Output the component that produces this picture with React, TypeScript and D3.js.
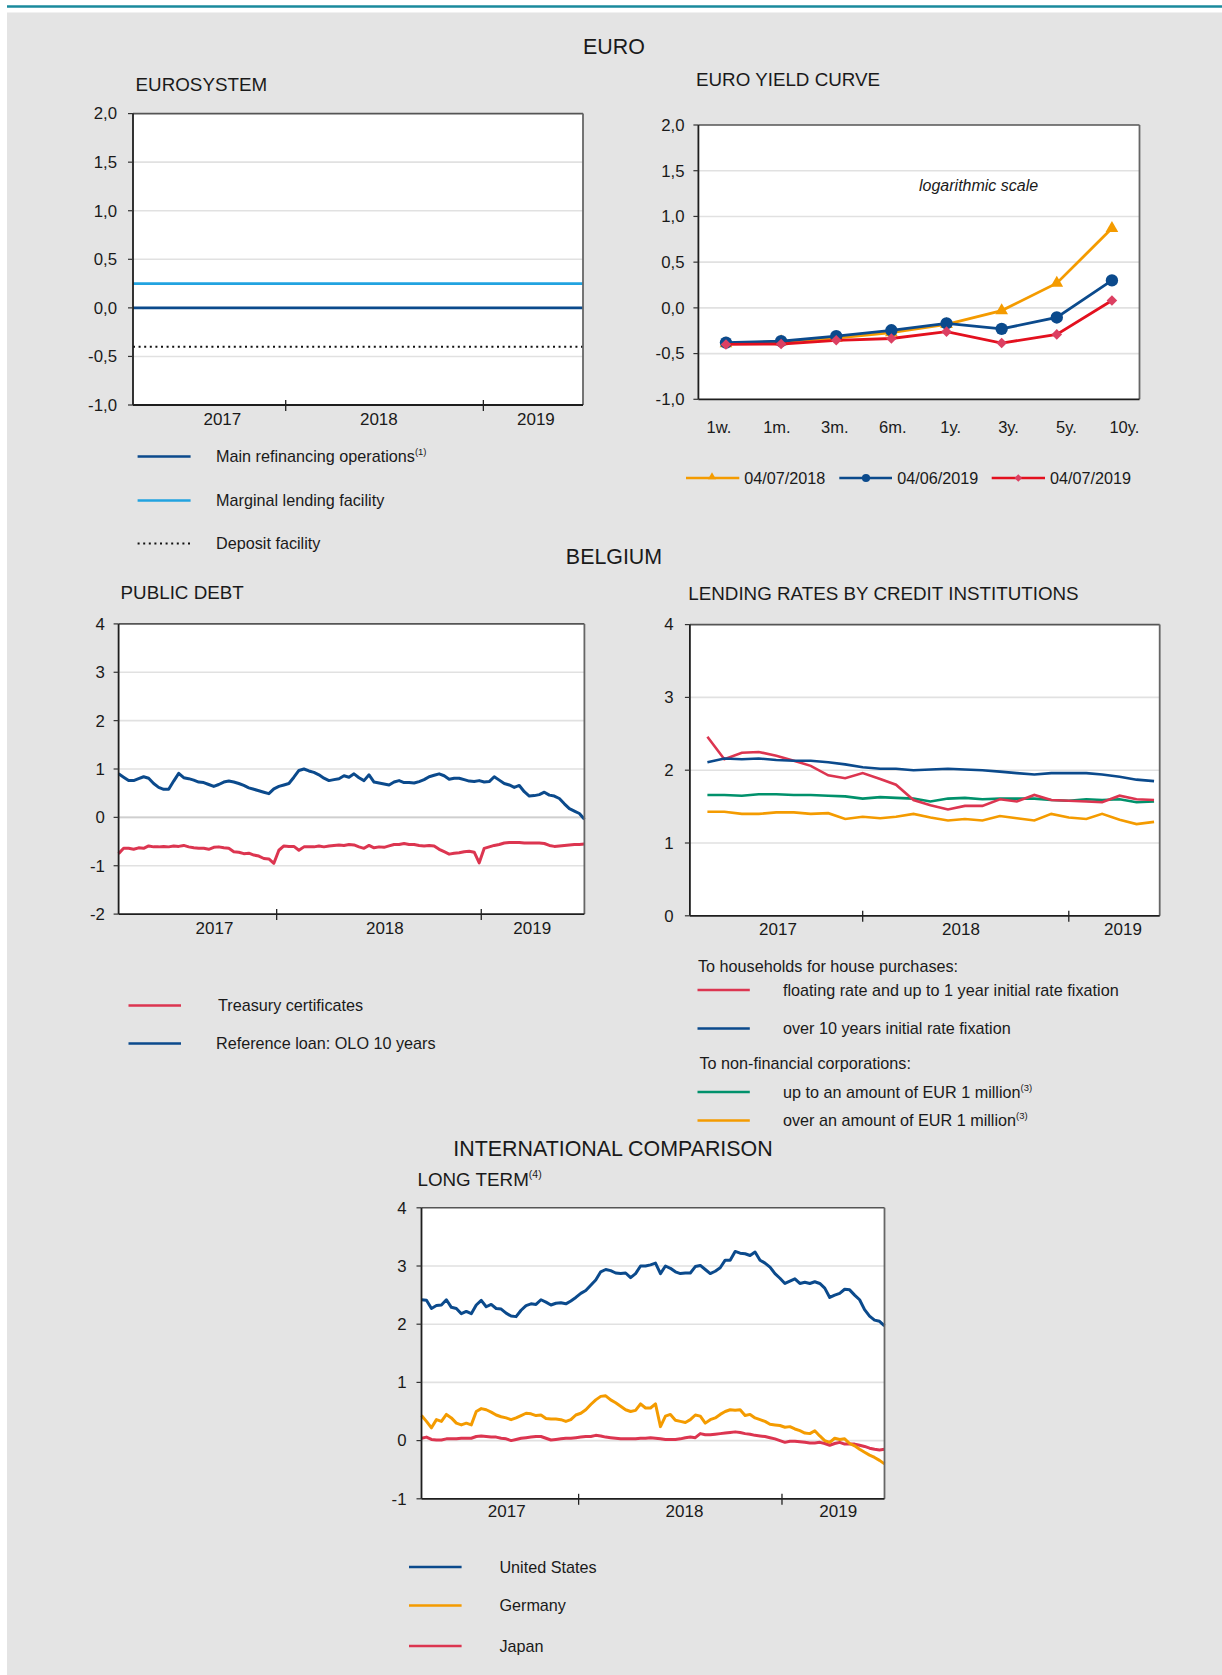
import React from "react";
import * as d3 from "d3";

const W = 1222;
const H = 1675;
const FONT = "'Liberation Sans', Arial, Helvetica, sans-serif";

const C = {
  navy: "#0b4a8c",
  sky: "#22a3e0",
  red: "#dc3550",
  brightRed: "#e3101e",
  pink: "#dc4062",
  orange: "#f49b00",
  green: "#00916b",
  grid: "#e1e1e1",
  bg: "#e4e4e4",
  teal: "#1a8a9c",
  text: "#1a1a1a",
};

// ---- shared time axis ----
const dailyStart = new Date(2017, 2, 25);
const dailyEnd = new Date(2019, 6, 4);
const yearLabels = ["2017", "2018", "2019"];
const yearBoundaries = [new Date(2018, 0, 1), new Date(2019, 0, 1)];

// label positions (dates) per chart
const euroLabelDates = [new Date(2017, 8, 6), new Date(2018, 5, 22), new Date(2019, 3, 8)];
const debtLabelDates = [new Date(2017, 8, 12), new Date(2018, 6, 13), new Date(2019, 3, 2)];
const lendingLabelDates = [new Date(2017, 7, 4), new Date(2018, 5, 24), new Date(2019, 3, 7)];
const longLabelDates = [new Date(2017, 7, 25), new Date(2018, 6, 10), new Date(2019, 3, 12)];

// ---- Eurosystem ----
const eurosystemDates = [dailyStart, dailyEnd];
const mainRefinancing = [0.0, 0.0];
const marginalLending = [0.25, 0.25];
const depositFacility = [-0.4, -0.4];

// ---- Euro yield curve ----
const maturities = ["1w.", "1m.", "3m.", "6m.", "1y.", "3y.", "5y.", "10y."];
const yield20180704 = [-0.39, -0.37, -0.33, -0.27, -0.18, -0.03, 0.27, 0.87];
const yield20190604 = [-0.38, -0.365, -0.31, -0.245, -0.17, -0.23, -0.105, 0.3];
const yield20190704 = [-0.4, -0.395, -0.355, -0.335, -0.26, -0.385, -0.29, 0.08];

// ---- Public debt (sampled along the period) ----
const oloValues = [
  0.9, 0.83, 0.76, 0.76, 0.8, 0.84, 0.81, 0.7, 0.62, 0.58, 0.58, 0.75, 0.91, 0.82, 0.8, 0.77,
  0.73, 0.72, 0.68, 0.64, 0.68, 0.73, 0.75, 0.73, 0.7, 0.66, 0.61, 0.58, 0.55, 0.52, 0.49, 0.59,
  0.64, 0.67, 0.7, 0.83, 0.97, 1.0, 0.96, 0.93, 0.88, 0.81, 0.76, 0.78, 0.8, 0.86, 0.83,
  0.9, 0.82, 0.76, 0.88, 0.73, 0.71, 0.69, 0.67, 0.73, 0.76, 0.72, 0.72, 0.71, 0.74, 0.78, 0.84,
  0.87, 0.9, 0.86, 0.79, 0.81, 0.81, 0.78, 0.75, 0.74, 0.76, 0.73, 0.74, 0.84, 0.77, 0.7, 0.67,
  0.62, 0.66, 0.53, 0.44, 0.45, 0.47, 0.52, 0.46, 0.44, 0.39, 0.28, 0.18, 0.13, 0.08, -0.04,
];
const treasuryValues = [
  -0.75, -0.64, -0.64, -0.66, -0.63, -0.64, -0.59, -0.61, -0.61, -0.6, -0.61, -0.59, -0.6, -0.58,
  -0.61, -0.63, -0.64, -0.64, -0.66, -0.62, -0.61, -0.63, -0.64, -0.71, -0.72, -0.75, -0.74, -0.78,
  -0.8, -0.85, -0.86, -0.95, -0.68, -0.59, -0.6, -0.6, -0.68, -0.61, -0.61, -0.61, -0.59, -0.61,
  -0.59, -0.58, -0.57, -0.58, -0.56,
  -0.57, -0.61, -0.64, -0.58, -0.63, -0.61, -0.62, -0.59, -0.56, -0.56, -0.54, -0.56, -0.56, -0.58,
  -0.59, -0.58, -0.59, -0.66, -0.71, -0.76, -0.74, -0.73, -0.71, -0.7, -0.72, -0.94, -0.64, -0.61,
  -0.58, -0.56, -0.53, -0.52, -0.52, -0.52, -0.53, -0.53, -0.53, -0.53, -0.54, -0.58, -0.6, -0.59,
  -0.58, -0.57, -0.56, -0.56, -0.55,
];

// ---- Lending rates (monthly, Apr 2017 - Jun 2019) ----
const lendingStart = new Date(2017, 2, 1);
const lendingEnd = new Date(2019, 5, 11);
const floatingRate = [
  2.46, 2.15, 2.24, 2.25, 2.2, 2.13, 2.06, 1.93, 1.89, 1.96, 1.88, 1.8, 1.59, 1.52, 1.46, 1.51,
  1.51, 1.6, 1.57, 1.66, 1.59, 1.58, 1.57, 1.56, 1.65, 1.6, 1.59,
];
const over10Years = [
  2.11, 2.16, 2.15, 2.16, 2.14, 2.13, 2.13, 2.11, 2.08, 2.04, 2.02, 2.02, 2.0, 2.01, 2.02, 2.01,
  2.0, 1.98, 1.96, 1.94, 1.96, 1.96, 1.96, 1.94, 1.91, 1.87, 1.85,
];
const upTo1Million = [
  1.66, 1.66, 1.65, 1.67, 1.67, 1.66, 1.66, 1.65, 1.64, 1.61, 1.63, 1.62, 1.61, 1.57, 1.61, 1.62,
  1.6, 1.61, 1.61, 1.61, 1.59, 1.58, 1.6, 1.59, 1.6, 1.56, 1.57,
];
const over1Million = [
  1.43, 1.43, 1.4, 1.4, 1.42, 1.42, 1.4, 1.41, 1.33, 1.36, 1.34, 1.36, 1.4, 1.35, 1.31, 1.33,
  1.31, 1.37, 1.34, 1.31, 1.4, 1.35, 1.33, 1.4, 1.32, 1.26, 1.29,
];

// ---- Long term international comparison ----
const usValues = [
  2.42, 2.41, 2.27, 2.32, 2.33, 2.42, 2.29, 2.27, 2.18, 2.22, 2.18, 2.33, 2.41, 2.3, 2.34, 2.27,
  2.26, 2.19, 2.14, 2.13, 2.24, 2.32, 2.35, 2.34, 2.42, 2.38, 2.33, 2.36, 2.37, 2.35, 2.4, 2.46,
  2.53, 2.58, 2.67, 2.76, 2.9, 2.94, 2.92, 2.88, 2.87, 2.88, 2.8, 2.87, 3.0, 3.0,
  3.02, 3.05, 2.87, 3.0, 2.96, 2.9, 2.87, 2.88, 2.88, 2.99, 3.01, 2.94, 2.87, 2.91, 2.97, 3.1,
  3.1, 3.25, 3.22, 3.21, 3.18, 3.24, 3.1, 3.05, 2.98, 2.87, 2.79, 2.7, 2.74, 2.78, 2.7, 2.72,
  2.7, 2.73, 2.7, 2.62, 2.46, 2.5, 2.53, 2.6, 2.59, 2.5, 2.42, 2.25, 2.14, 2.07, 2.05, 1.97,
];
const germanyValues = [
  0.43, 0.33, 0.22, 0.36, 0.33, 0.45, 0.39, 0.3, 0.27, 0.3, 0.27, 0.5, 0.55, 0.53, 0.49, 0.44,
  0.41, 0.39, 0.36, 0.39, 0.43, 0.47, 0.46, 0.43, 0.44, 0.38, 0.37, 0.37, 0.36, 0.33, 0.36, 0.44,
  0.47, 0.53, 0.62, 0.7, 0.76, 0.77, 0.7, 0.65, 0.59, 0.53, 0.5, 0.52, 0.63, 0.56,
  0.56, 0.63, 0.24, 0.42, 0.45, 0.35, 0.33, 0.31, 0.36, 0.44, 0.42, 0.3, 0.36, 0.39, 0.45, 0.5,
  0.53, 0.52, 0.53, 0.43, 0.45, 0.39, 0.36, 0.33, 0.28, 0.27, 0.26, 0.23, 0.24, 0.2, 0.17, 0.13,
  0.12, 0.17, 0.08, 0.0, -0.03, 0.04, 0.02, 0.03, -0.05, -0.09, -0.15, -0.2, -0.25, -0.29, -0.34, -0.4,
];
const japanValues = [
  0.04, 0.06, 0.02, 0.01, 0.01, 0.03, 0.03, 0.03, 0.04, 0.04, 0.04, 0.07, 0.08, 0.07, 0.06, 0.06,
  0.04, 0.03, 0.0, 0.02, 0.04, 0.05, 0.06, 0.07, 0.07, 0.04, 0.01, 0.02, 0.03, 0.04, 0.04, 0.05,
  0.06, 0.07, 0.07, 0.09, 0.08, 0.06, 0.05, 0.04, 0.03, 0.03, 0.03, 0.03, 0.04, 0.04, 0.05, 0.04,
  0.03, 0.02, 0.02, 0.02, 0.03, 0.05, 0.06, 0.05, 0.12, 0.1, 0.1, 0.11, 0.12, 0.13, 0.14, 0.15,
  0.14, 0.12, 0.11, 0.09, 0.08, 0.07, 0.05, 0.03, 0.0, -0.03, -0.01, -0.01, -0.02, -0.03, -0.04, -0.04,
  -0.03, -0.05, -0.08, -0.05, -0.03, -0.06, -0.06, -0.06, -0.08, -0.1, -0.13, -0.15, -0.16, -0.15,
];

type Pt = { date: Date; value: number };

function spread(values: number[], start: Date, end: Date): Pt[] {
  const t = d3.scaleLinear().domain([0, values.length - 1]).range([+start, +end]);
  return values.map((v, i) => ({ date: new Date(t(i)), value: v }));
}

function monthly(values: number[]): Pt[] {
  return values.map((v, i) => ({ date: new Date(2017, 3 + i, 1), value: v }));
}

const fmtComma = (v: number) => v.toFixed(1).replace(".", ",");
const fmtInt = (v: number) => String(v);

type FrameProps = {
  left: number;
  right: number;
  top: number;
  bottom: number;
  y: d3.ScaleLinear<number, number>;
  yTicks: number[];
  yFmt: (v: number) => string;
  labelRight: number;
  boundaryXs?: number[];
  xLabels?: { text: string; x: number }[];
  xLabelY: number;
  xLabelSize?: number;
  children?: React.ReactNode;
};

function Frame({
  left, right, top, bottom, y, yTicks, yFmt, labelRight,
  boundaryXs = [], xLabels = [], xLabelY, xLabelSize = 17, children,
}: FrameProps) {
  return (
    <g>
      <rect x={left} y={top} width={right - left} height={bottom - top} fill="#fff" />
      {yTicks
        .filter((v) => y(v) > top + 1 && y(v) < bottom - 1)
        .map((v) => (
          <line key={"g" + v} x1={left} x2={right} y1={y(v)} y2={y(v)} stroke={C.grid} strokeWidth={1.6} />
        ))}
      {children}
      <line x1={left} x2={right} y1={top} y2={top} stroke="#555" strokeWidth={1.6} />
      <line x1={right} x2={right} y1={top} y2={bottom} stroke="#666" strokeWidth={1.8} />
      <line x1={left} x2={left} y1={top} y2={bottom} stroke="#1e1e1e" strokeWidth={1.8} />
      <line x1={left} x2={right} y1={bottom} y2={bottom} stroke="#1e1e1e" strokeWidth={1.8} />
      {yTicks.map((v) => (
        <g key={"t" + v}>
          <line x1={left - 5} x2={left} y1={y(v)} y2={y(v)} stroke="#333" strokeWidth={1.2} />
          <text x={labelRight} y={y(v)} dy="0.35em" textAnchor="end" fontSize={16.8} fill={C.text}>
            {yFmt(v)}
          </text>
        </g>
      ))}
      {boundaryXs.map((bx, i) => (
        <line key={"b" + i} x1={bx} x2={bx} y1={bottom - 5} y2={bottom + 6} stroke="#222" strokeWidth={1.3} />
      ))}
      {xLabels.map((l) => (
        <text key={l.text} x={l.x} y={xLabelY} dy="0.35em" textAnchor="middle" fontSize={xLabelSize} fill={C.text}>
          {l.text}
        </text>
      ))}
    </g>
  );
}

function LegendItem({
  x1, x2, y, textX, color, label, sup, dotted,
}: {
  x1: number; x2: number; y: number; textX: number; color: string; label: string; sup?: string; dotted?: boolean;
}) {
  return (
    <g>
      <line
        x1={x1} x2={x2} y1={y} y2={y}
        stroke={color}
        strokeWidth={dotted ? 2 : 2.6}
        strokeDasharray={dotted ? "2,3.6" : undefined}
      />
      <text x={textX} y={y} dy="0.35em" fontSize={16.2} fill={C.text}>
        {label}
        {sup && (
          <tspan fontSize={9.5} dy={-7}>
            {sup}
          </tspan>
        )}
      </text>
    </g>
  );
}

export default function App() {
  // Eurosystem
  const euX = d3.scaleTime().domain([dailyStart, dailyEnd]).range([133, 583]);
  const euY = d3.scaleLinear().domain([-1, 2]).range([405, 113.6]);
  const flat = (vals: number[]) => eurosystemDates.map((d, i) => ({ date: d, value: vals[i] }));
  const euLine = d3.line<Pt>().x((d) => euX(d.date)).y((d) => euY(d.value));

  // Yield curve
  const ycX = d3.scalePoint<string>().domain(maturities).range([698.4, 1139.5]).padding(0.5);
  const ycLabelX = d3.scalePoint<string>().domain(maturities).range([719, 1124.4]);
  const ycY = d3.scaleLinear().domain([-1, 2]).range([399.3, 125]);
  const ycLine = d3.line<number>().x((_, i) => ycX(maturities[i])!).y((v) => ycY(v));
  const tri = d3.symbol(d3.symbolTriangle, 70)()!;
  const circ = d3.symbol(d3.symbolCircle, 120)()!;
  const diam = d3.symbol(d3.symbolSquare, 56)()!;
  const triS = d3.symbol(d3.symbolTriangle, 28)()!;
  const circS = d3.symbol(d3.symbolCircle, 52)()!;
  const diamS = d3.symbol(d3.symbolSquare, 28)()!;

  // Public debt
  const pdX = d3.scaleTime().domain([dailyStart, dailyEnd]).range([118.6, 584.4]);
  const pdY = d3.scaleLinear().domain([-2, 4]).range([914.1, 623.9]);
  const pdLine = d3.line<Pt>().x((d) => pdX(d.date)).y((d) => pdY(d.value));
  const olo = spread(oloValues, dailyStart, dailyEnd);
  const treasury = spread(treasuryValues, dailyStart, dailyEnd);

  // Lending rates
  const lrX = d3.scaleTime().domain([lendingStart, lendingEnd]).range([689.9, 1159.7]);
  const lrY = d3.scaleLinear().domain([0, 4]).range([915.8, 624.6]);
  const lrLine = d3.line<Pt>().x((d) => lrX(d.date)).y((d) => lrY(d.value));

  // Long term
  const ltX = d3.scaleTime().domain([dailyStart, dailyEnd]).range([421.5, 884.5]);
  const ltY = d3.scaleLinear().domain([-1, 4]).range([1498.8, 1207.8]);
  const ltLine = d3.line<Pt>().x((d) => ltX(d.date)).y((d) => ltY(d.value));

  const title = (t: string, x: number, y: number, size: number, anchor = "start", sup?: string) => (
    <text x={x} y={y} fontSize={size} textAnchor={anchor} fill={C.text}>
      {t}
      {sup && (
        <tspan fontSize={10.5} dy={-8}>
          {sup}
        </tspan>
      )}
    </text>
  );

  const daily = { fill: "none", strokeWidth: 3, strokeLinejoin: "round" as const };

  return (
    <svg
      width={W}
      height={H}
      viewBox={`0 0 ${W} ${H}`}
      fontFamily={FONT}
      style={{ position: "absolute", left: 0, top: 0, display: "block" }}
    >
      <rect x={0} y={0} width={W} height={H} fill="#fff" />
      <rect x={7} y={12.5} width={W - 7} height={H - 12.5} fill={C.bg} />
      <line x1={7} x2={W} y1={6.5} y2={6.5} stroke={C.teal} strokeWidth={2.6} />

      {/* ===== EURO ===== */}
      {title("EURO", 614, 53.5, 21.4, "middle")}
      {title("EUROSYSTEM", 135.6, 90.6, 18.8)}
      <Frame
        left={133} right={583} top={113.6} bottom={405}
        y={euY} yTicks={[-1, -0.5, 0, 0.5, 1, 1.5, 2]} yFmt={fmtComma} labelRight={117}
        boundaryXs={yearBoundaries.map((d) => euX(d))}
        xLabels={yearLabels.map((t, i) => ({ text: t, x: euX(euroLabelDates[i]) }))}
        xLabelY={418.6}
      >
        <path d={euLine(flat(depositFacility))!} stroke="#111" strokeWidth={2} strokeDasharray="2,3.6" fill="none" />
        <path d={euLine(flat(marginalLending))!} stroke={C.sky} strokeWidth={2.8} fill="none" />
        <path d={euLine(flat(mainRefinancing))!} stroke={C.navy} strokeWidth={2.8} fill="none" />
      </Frame>
      <LegendItem x1={137.6} x2={190.6} y={456.5} textX={216} color={C.navy} label="Main refinancing operations" sup="(1)" />
      <LegendItem x1={137.6} x2={190.6} y={500.5} textX={216} color={C.sky} label="Marginal lending facility" />
      <LegendItem x1={137.6} x2={192} y={543.5} textX={216} color="#111" label="Deposit facility" dotted />

      {title("EURO YIELD CURVE", 696, 86.4, 18.8)}
      <Frame
        left={698.4} right={1139.5} top={125} bottom={399.3}
        y={ycY} yTicks={[-1, -0.5, 0, 0.5, 1, 1.5, 2]} yFmt={fmtComma} labelRight={684.5}
        xLabels={maturities.map((m) => ({ text: m, x: ycLabelX(m)! }))}
        xLabelY={427.5}
        xLabelSize={16.5}
      >
        <text x={919} y={185.7} dy="0.35em" fontSize={16} fontStyle="italic" fill={C.text}>
          logarithmic scale
        </text>
        <path d={ycLine(yield20180704)!} stroke={C.orange} strokeWidth={2.8} fill="none" />
        {yield20180704.map((v, i) => (
          <path key={"o" + i} d={tri} transform={`translate(${ycX(maturities[i])},${ycY(v)})`} fill={C.orange} />
        ))}
        <path d={ycLine(yield20190604)!} stroke={C.navy} strokeWidth={2.8} fill="none" />
        {yield20190604.map((v, i) => (
          <path key={"b" + i} d={circ} transform={`translate(${ycX(maturities[i])},${ycY(v)})`} fill={C.navy} />
        ))}
        <path d={ycLine(yield20190704)!} stroke={C.brightRed} strokeWidth={2.8} fill="none" />
        {yield20190704.map((v, i) => (
          <path key={"r" + i} d={diam} transform={`translate(${ycX(maturities[i])},${ycY(v)}) rotate(45)`} fill={C.pink} />
        ))}
      </Frame>
      {/* yield legend */}
      <g>
        <line x1={686} x2={739.3} y1={478} y2={478} stroke={C.orange} strokeWidth={2.6} />
        <path d={triS} transform="translate(712,477)" fill={C.orange} />
        <text x={744.3} y={478} dy="0.35em" fontSize={16.2} fill={C.text}>04/07/2018</text>
        <line x1={839.3} x2={892} y1={478} y2={478} stroke={C.navy} strokeWidth={2.6} />
        <path d={circS} transform="translate(866,478)" fill={C.navy} />
        <text x={897.3} y={478} dy="0.35em" fontSize={16.2} fill={C.text}>04/06/2019</text>
        <line x1={991.7} x2={1045} y1={478} y2={478} stroke={C.brightRed} strokeWidth={2.6} />
        <path d={diamS} transform="translate(1018.3,478) rotate(45)" fill={C.pink} />
        <text x={1050} y={478} dy="0.35em" fontSize={16.2} fill={C.text}>04/07/2019</text>
      </g>

      {/* ===== BELGIUM ===== */}
      {title("BELGIUM", 614, 563.5, 21.4, "middle")}
      {title("PUBLIC DEBT", 120.6, 599, 18.8)}
      <Frame
        left={118.6} right={584.4} top={623.9} bottom={914.1}
        y={pdY} yTicks={[-2, -1, 0, 1, 2, 3, 4]} yFmt={fmtInt} labelRight={104.8}
        boundaryXs={yearBoundaries.map((d) => pdX(d))}
        xLabels={yearLabels.map((t, i) => ({ text: t, x: pdX(debtLabelDates[i]) }))}
        xLabelY={928}
      >
        <line x1={118.6} x2={584.4} y1={pdY(0)} y2={pdY(0)} stroke="#cfcfcf" strokeWidth={1.6} />
        <path d={pdLine(treasury)!} stroke={C.red} {...daily} />
        <path d={pdLine(olo)!} stroke={C.navy} {...daily} />
      </Frame>
      <LegendItem x1={128.5} x2={181} y={1005.5} textX={218} color={C.red} label="Treasury certificates" />
      <LegendItem x1={128.5} x2={181} y={1043.5} textX={216} color={C.navy} label="Reference loan: OLO 10 years" />

      {title("LENDING RATES BY CREDIT INSTITUTIONS", 688.3, 600.2, 18.8)}
      <Frame
        left={689.9} right={1159.7} top={624.6} bottom={915.8}
        y={lrY} yTicks={[0, 1, 2, 3, 4]} yFmt={fmtInt} labelRight={673.7}
        boundaryXs={yearBoundaries.map((d) => lrX(d))}
        xLabels={yearLabels.map((t, i) => ({ text: t, x: lrX(lendingLabelDates[i]) }))}
        xLabelY={929}
      >
        <path d={lrLine(monthly(over1Million))!} stroke={C.orange} strokeWidth={2.6} fill="none" />
        <path d={lrLine(monthly(upTo1Million))!} stroke={C.green} strokeWidth={2.6} fill="none" />
        <path d={lrLine(monthly(floatingRate))!} stroke={C.red} strokeWidth={2.6} fill="none" />
        <path d={lrLine(monthly(over10Years))!} stroke={C.navy} strokeWidth={2.6} fill="none" />
      </Frame>
      <text x={698} y={966} dy="0.35em" fontSize={16.2} fill={C.text}>To households for house purchases:</text>
      <LegendItem x1={697.5} x2={749.8} y={990} textX={783} color={C.red} label="floating rate and up to 1 year initial rate fixation" />
      <LegendItem x1={697.5} x2={749.8} y={1028.5} textX={783} color={C.navy} label="over 10 years initial rate fixation" />
      <text x={699.5} y={1063.5} dy="0.35em" fontSize={16.2} fill={C.text}>To non-financial corporations:</text>
      <LegendItem x1={697.5} x2={749.8} y={1092} textX={783} color={C.green} label="up to an amount of EUR 1 million" sup="(3)" />
      <LegendItem x1={697.5} x2={749.8} y={1120.5} textX={783} color={C.orange} label="over an amount of EUR 1 million" sup="(3)" />

      {/* ===== INTERNATIONAL COMPARISON ===== */}
      {title("INTERNATIONAL COMPARISON", 613, 1155.5, 21.4, "middle")}
      {title("LONG TERM", 417.5, 1186, 18.8, "start", "(4)")}
      <Frame
        left={421.5} right={884.5} top={1207.8} bottom={1498.8}
        y={ltY} yTicks={[-1, 0, 1, 2, 3, 4]} yFmt={fmtInt} labelRight={406.5}
        boundaryXs={yearBoundaries.map((d) => ltX(d))}
        xLabels={yearLabels.map((t, i) => ({ text: t, x: ltX(longLabelDates[i]) }))}
        xLabelY={1511}
      >
        <path d={ltLine(spread(japanValues, dailyStart, dailyEnd))!} stroke={C.red} {...daily} />
        <path d={ltLine(spread(germanyValues, dailyStart, dailyEnd))!} stroke={C.orange} {...daily} />
        <path d={ltLine(spread(usValues, dailyStart, dailyEnd))!} stroke={C.navy} {...daily} />
      </Frame>
      <LegendItem x1={409} x2={461.6} y={1567} textX={499.4} color={C.navy} label="United States" />
      <LegendItem x1={409} x2={461.6} y={1605.5} textX={499.4} color={C.orange} label="Germany" />
      <LegendItem x1={409} x2={461.6} y={1646} textX={499.4} color={C.red} label="Japan" />
    </svg>
  );
}
